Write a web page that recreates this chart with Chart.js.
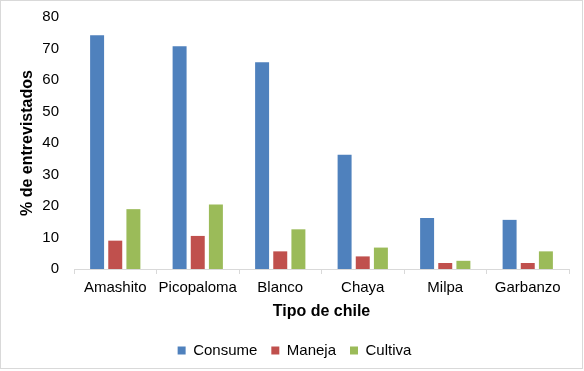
<!DOCTYPE html>
<html>
<head>
<meta charset="utf-8">
<script src="https://cdn.jsdelivr.net/npm/chart.js@4"></script>
<style>
html,body{margin:0;padding:0;background:#fff;}
#wrap{width:584px;height:371px;position:relative;}
</style>
</head>
<body>
<div id="wrap"><canvas id="c" width="584" height="371"></canvas></div>
<script>
const categories = ['Amashito', 'Picopaloma', 'Blanco', 'Chaya', 'Milpa', 'Garbanzo'];
const consume = [74.2, 70.7, 65.6, 36.3, 16.2, 15.6];
const maneja = [9.0, 10.5, 5.6, 4.0, 1.9, 1.9];
const cultiva = [19.0, 20.5, 12.6, 6.8, 2.6, 5.6];
const yTicks = [0, 10, 20, 30, 40, 50, 60, 70, 80];

const FONT = "'Liberation Sans', Arial, sans-serif";

const borderPlugin = {
  id: 'outerBorder',
  beforeDraw(chart) {
    const ctx = chart.ctx;
    ctx.save();
    ctx.fillStyle = '#fff';
    ctx.fillRect(0, 0, chart.width, chart.height);
    ctx.strokeStyle = '#d9d9d9';
    ctx.lineWidth = 1;
    ctx.strokeRect(0.5, 0.5, 582, 368);
    ctx.restore();
  }
};

const legendShift = {
  id: 'legendShift',
  afterLayout(chart) {
    if (chart.legend) { chart.legend.left += 12; }
  }
};

new Chart(document.getElementById('c'), {
  type: 'bar',
  data: {
    labels: categories,
    datasets: [
      { label: 'Consume', data: consume, backgroundColor: '#4F81BD' },
      { label: 'Maneja', data: maneja, backgroundColor: '#C0504D' },
      { label: 'Cultiva', data: cultiva, backgroundColor: '#9BBB59' }
    ]
  },
  options: {
    responsive: false,
    animation: false,
    devicePixelRatio: 1,
    layout: { padding: { left: 8, right: 15, top: 17, bottom: 3 } },
    datasets: { bar: { categoryPercentage: 0.66, barPercentage: 0.77 } },
    plugins: {
      legend: {
        position: 'bottom',
        labels: {
          font: { family: FONT, size: 15 },
          color: '#000',
          boxWidth: 8,
          boxHeight: 8,
          padding: 14
        }
      },
      tooltip: { enabled: false }
    },
    scales: {
      x: {
        grid: { display: true, drawOnChartArea: false, drawTicks: true, tickLength: 5, offset: true, color: '#d9d9d9' },
        border: { display: true, color: '#d9d9d9' },
        ticks: { font: { family: FONT, size: 15 }, color: '#000', padding: 5, maxRotation: 0, autoSkip: false },
        title: { display: true, text: 'Tipo de chile', font: { family: FONT, size: 16, weight: 'bold' }, color: '#000', padding: { top: 0, bottom: 8 } },
        afterFit(s) { s.height = 60; s.paddingLeft = 0; s.paddingRight = 0; }
      },
      y: {
        min: 0, max: 80,
        afterBuildTicks(s) { s.ticks = yTicks.map(v => ({ value: v })); },
        grid: { display: false, drawTicks: false },
        border: { display: false },
        ticks: { font: { family: FONT, size: 15 }, color: '#000', padding: 15 },
        title: { display: true, text: '% de entrevistados', font: { family: FONT, size: 16, weight: 'bold' }, color: '#000', padding: { top: 10, bottom: 0 } },
        afterFit(s) { s.width = 66; s.paddingTop = 0; s.paddingBottom = 0; }
      }
    }
  },
  plugins: [borderPlugin, legendShift]
});
</script>
</body>
</html>
